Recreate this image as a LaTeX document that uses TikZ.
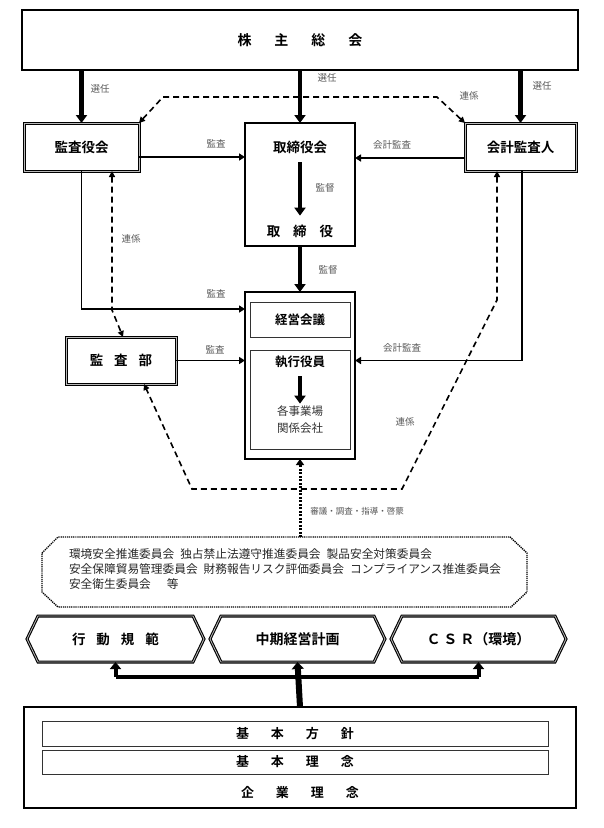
\documentclass[tikz,border=0pt]{standalone}
\usepackage{fontspec}
\setmainfont{Noto Sans CJK JP}[BoldFont={Noto Sans CJK JP Bold}]
\usetikzlibrary{arrows.meta,calc}
\tikzset{
 every node/.style={inner sep=0pt, outer sep=0pt},
 sbox/.style={draw, line width=1.3pt},
 thinbox/.style={draw=black!80, line width=0.9pt},
 dbox/.style={draw=black, double=gray!55, double distance=0.8pt, line width=1.1pt},
 ttl/.style={font=\fontsize{13.5}{16}\selectfont\bfseries},
 sttl/.style={font=\fontsize{12.5}{15}\selectfont\bfseries},
 lbl/.style={font=\fontsize{9.5}{11}\selectfont, text=black!65},
 bigarrow/.style={line width=4.5pt, -{Triangle[length=8pt,width=11pt]}},
 midarrow/.style={line width=1.8pt, -{Triangle[length=6pt,width=7pt]}},
 dasharrow/.style={line width=1.6pt, dash pattern=on 6pt off 4pt,
   {Triangle[length=6pt,width=6pt]}-{Triangle[length=6pt,width=6pt]}},
 hexline/.style={draw=black, double=gray!55, double distance=0.8pt, line width=1.1pt},
}
\newcommand\myhex[4]{%
 \draw[hexline] (#1,639) -- (#1+11,616) -- (#2-11,616) -- (#2,639) -- (#2-11,662) -- (#1+11,662) -- cycle;
 \node[ttl, minimum height=46pt] (#3) at ({(#1+#2)/2},639) {#4};}
\begin{document}
\begin{tikzpicture}[x=1pt,y=-1pt]
\fill[white] (0,0) rectangle (604,828);
\useasboundingbox (0,0) rectangle (604,828);

% top
\node[sbox, minimum width=556pt, minimum height=60pt, font=\fontsize{14}{16}\selectfont\bfseries] (soukai) at (300,40)
  {株\hspace{23pt}主\hspace{23pt}総\hspace{23pt}会};

\node[dbox, ttl, minimum width=115pt, minimum height=48pt] (kansayaku) at (81.5,147) {監査役会};
\node[sbox, minimum width=110pt, minimum height=123pt] (torishimari) at (300,184.5) {};
\node[ttl] (tk) at (300,147) {取締役会};
\node[ttl] (tt) at (300,231) {取\hspace{13pt}締\hspace{13pt}役};
\node[dbox, ttl, minimum width=111pt, minimum height=48pt] (kaikei) at (520.5,147) {会計監査人};

\node[dbox, ttl, minimum width=110pt, minimum height=47pt] (kansabu) at (121,360.5) {監\hspace{11pt}査\hspace{11pt}部};

\node[draw, line width=1.6pt, minimum width=110pt, minimum height=167pt] (mgmt) at (300,375.5) {};
\node[thinbox, sttl, minimum width=100pt, minimum height=35pt] (keiei) at (300,319.5) {経営会議};
\node[thinbox, minimum width=100pt, minimum height=99pt] (shikko) at (300,399.5) {};
\node[sttl] (sk) at (300,362) {執行役員};
\node[font=\fontsize{11.5}{17}\selectfont, text=black!80, align=center] (jigyo) at (300,419.5) {各事業場\\関係会社};

% coordinates
\coordinate (d1) at (163,97);
\coordinate (d2) at (437,97);
\coordinate (x112) at (112,0);
\coordinate (x123) at (123,0);
\coordinate (l1) at (112,310);
\coordinate (x497) at (497,0);
\coordinate (x144) at (144,0);
\coordinate (r1) at (497,300);
\coordinate (r2) at (402,489);
\coordinate (r3) at (192,489);
\coordinate (comtop) at (300,537);

% arrows from soukai
\draw[bigarrow] (soukai.south -| kansayaku) -- (kansayaku.north);
\draw[bigarrow] (soukai.south -| torishimari) -- (torishimari.north);
\draw[bigarrow] (soukai.south -| kaikei) -- (kaikei.north);
\node[lbl] at (100,89) {選任};
\node[lbl] at (327,78) {選任};
\node[lbl] at (542,86) {選任};

% top dashed
\draw[dasharrow] (kansayaku.north east) -- (d1) -- (d2) -- (kaikei.north west);
\node[lbl] at (469,96) {連係};

% audits
\draw[midarrow] ([yshift=-10pt]kansayaku.east) -- ([yshift=-10pt]kansayaku.east -| torishimari.west);
\node[lbl] at (216,144) {監査};
\draw[midarrow] ([yshift=-11pt]kaikei.west) -- ([yshift=-11pt]kaikei.west -| torishimari.east);
\node[lbl] at (392,145) {会計監査};

\draw[bigarrow, shorten <=9pt, shorten >=9pt] (tk.south) -- (tt.north);
\node[lbl] at (325,188) {監督};
\draw[bigarrow] (torishimari.south) -- (mgmt.north);
\node[lbl] at (328,270) {監督};

\draw[midarrow] (kansayaku.south) |- ($(mgmt.north west)+(0,17)$);
\node[lbl] at (216,294) {監査};
\draw[midarrow] (kansabu.east) -- (kansabu.east -| mgmt.west);
\node[lbl] at (215,350) {監査};
\draw[midarrow] ([xshift=1.5pt]kaikei.south) |- (kansabu.east -| mgmt.east);
\node[lbl] at (402,348) {会計監査};

\draw[bigarrow, line width=4pt, shorten <=8pt, shorten >=2pt] (sk.south) -- (jigyo.north);

% dashed links
\draw[dasharrow] (kansayaku.south -| x112) -- (l1) -- (kansabu.north -| x123);
\node[lbl] at (131,239) {連係};
\draw[dasharrow] (kaikei.south -| x497) -- (r1) -- (r2) -- (r3) -- (kansabu.south -| x144);
\node[lbl] at (405,422) {連係};

% committee
\draw[line width=3pt, dash pattern=on 2pt off 1.5pt, -{Triangle[length=6pt,width=8pt]}] (comtop) -- (mgmt.south);
\node[lbl, font=\fontsize{8.5}{10}\selectfont] at (357,511) {審議・調査・指導・啓蒙};
\draw[line width=1.4pt, dash pattern=on 1.2pt off 0.9pt]
  (42,553) -- (58,537) -- (510,537) -- (527,553) -- (527,592) -- (511,607) -- (58,607) -- (42,592) -- cycle;
\node[anchor=north west, align=left, font=\fontsize{11.7}{15}\selectfont, text=black!85] (com) at (69,548.5)
  {環境安全推進委員会\hspace{6pt}独占禁止法遵守推進委員会\hspace{6pt}製品安全対策委員会\\
   安全保障貿易管理委員会\hspace{6pt}財務報告リスク評価委員会\hspace{6pt}コンプライアンス推進委員会\\
   安全衛生委員会\hspace{16pt}等};

% hexagons
\myhex{27}{204}{hex1}{行\hspace{11pt}動\hspace{11pt}規\hspace{11pt}範}
\myhex{210}{385}{hex2}{\fontsize{14}{16}\selectfont 中期経営計画}
\myhex{391}{566}{hex3}{\fontsize{14}{16}\selectfont Ｃ\hspace{3pt}Ｓ\hspace{3pt}Ｒ（環境）}

% bottom box
\node[draw, line width=2.3pt, minimum width=552pt, minimum height=101pt] (base) at (300,757.5) {};
\node[thinbox, minimum width=506pt, minimum height=25pt, font=\fontsize{13}{15}\selectfont\bfseries] (houshin) at (295,733.5)
  {基\hspace{22pt}本\hspace{22pt}方\hspace{22pt}針};
\node[thinbox, minimum width=506pt, minimum height=24pt, font=\fontsize{13}{15}\selectfont\bfseries] (rinen) at (295,762)
  {基\hspace{22pt}本\hspace{22pt}理\hspace{22pt}念};
\node[font=\fontsize{13}{15}\selectfont\bfseries] (kigyo) at (300,793)
  {企\hspace{22pt}業\hspace{22pt}理\hspace{22pt}念};

% tree
\coordinate (j0) at (300,677);
\draw[line width=4pt] (hex1.south |- j0) -- (hex3.south |- j0);
\draw[line width=4pt, -{Triangle[length=7pt,width=11pt]}] (hex1.south |- j0) -- (hex1.south);
\draw[line width=4pt, -{Triangle[length=7pt,width=11pt]}] (hex3.south |- j0) -- (hex3.south);
\draw[line width=6pt, -{Triangle[length=7pt,width=12pt]}] (base.north) -- (hex2.south);
\end{tikzpicture}
\end{document}
